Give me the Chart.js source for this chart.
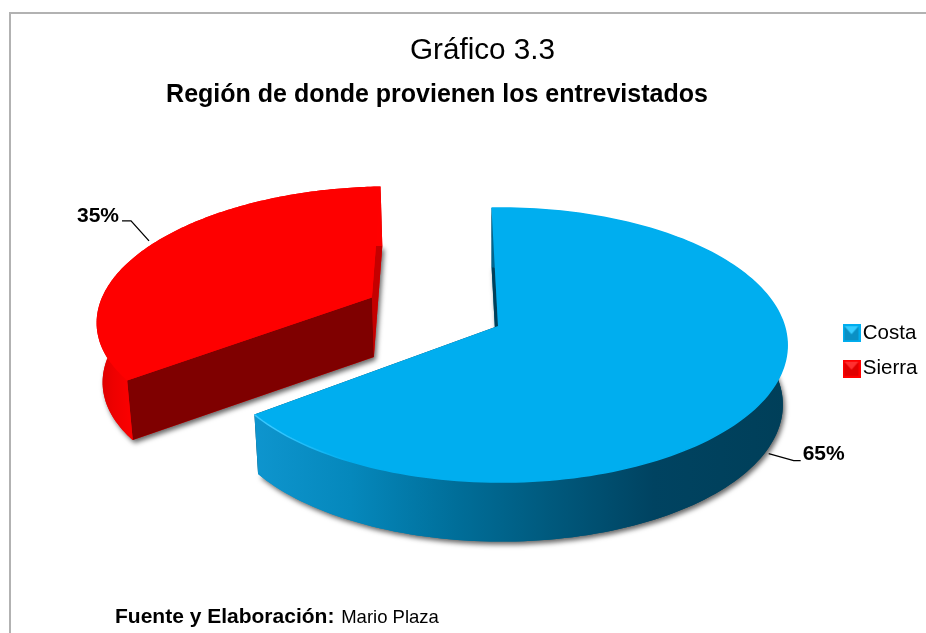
<!DOCTYPE html>
<html lang="es">
<head>
<meta charset="utf-8">
<style>html,body{margin:0;padding:0;background:#fff}canvas{display:block}</style>
<script src="https://cdn.jsdelivr.net/npm/chart.js@4"></script>
</head>
<body>
<canvas id="c" width="926" height="633"></canvas>
<script>
const categories = ['Costa', 'Sierra'];
const values = [65, 35];
const chartTitle = 'Gráfico 3.3';
const chartSubtitle = 'Región de donde provienen los entrevistados';
const sourceLabel = 'Fuente y Elaboración:';
const sourceName = 'Mario Plaza';

const topColors = ['#00AEEF', '#FE0000'];
const startFaceColors = ['#00405A', '#C40000'];
const endFaceColors = ['#00405A', '#7F0000'];
const FONT = '"Liberation Sans", Arial, sans-serif';

// perspective view of the flat pie
const VIEW = {cx: 498, cy: 326, rx: 283.5, ry: 134.4, k: 0.139, h: 0.01, wall: 59.5, taper: 0.015, explodePerPx: 0.51 / 60};
function project(u, v) {
  const d = 1 - VIEW.k * v - VIEW.h * u;
  return {x: VIEW.cx + VIEW.rx * u / d, y: VIEW.cy + VIEW.ry * v / d};
}
function drop(p) {
  return {x: p.x - (p.x - VIEW.cx) * VIEW.taper, y: p.y + VIEW.wall};
}
function trace(ctx, pts) {
  ctx.beginPath();
  pts.forEach((p, i) => i ? ctx.lineTo(p.x, p.y) : ctx.moveTo(p.x, p.y));
  ctx.closePath();
}
function sliceGeometry(arc) {
  const off = arc.options.offset * VIEW.explodePerPx;
  const mid = (arc.startAngle + arc.endAngle) / 2;
  const ou = Math.cos(mid) * off, ov = Math.sin(mid) * off;
  const rim = [];
  const n = 160;
  for (let i = 0; i <= n; i++) {
    const a = arc.startAngle + (arc.endAngle - arc.startAngle) * i / n;
    rim.push(project(ou + Math.cos(a), ov + Math.sin(a)));
  }
  return {apex: project(ou, ov), rim, anchor: project(ou + Math.cos(mid), ov + Math.sin(mid))};
}
function wallGradient(ctx, i, rim) {
  const xs = rim.map(p => p.x);
  const lo = Math.min(...xs), hi = Math.max(...xs);
  const g = ctx.createLinearGradient(lo, 0, hi, 0);
  if (i === 0) {
    g.addColorStop(0, '#0E95CE');
    g.addColorStop(0.18, '#0588BC');
    g.addColorStop(0.38, '#006E99');
    g.addColorStop(0.55, '#005A7E');
    g.addColorStop(0.75, '#004361');
    g.addColorStop(1, '#003F59');
  } else {
    g.addColorStop(0, '#D80000');
    g.addColorStop(0.06, '#EE0000');
    g.addColorStop(0.14, '#FF0000');
    g.addColorStop(1, '#FF0000');
  }
  return g;
}
function drawSlice(ctx, arc, i) {
  const {apex, rim} = sliceGeometry(arc);
  const topShape = [apex, ...rim];
  const baseShape = topShape.map(drop);
  const wallFill = wallGradient(ctx, i, rim);

  ctx.save();
  ctx.shadowColor = 'rgba(0,0,0,0.6)';
  ctx.shadowBlur = 5;
  ctx.shadowOffsetX = 2;
  ctx.shadowOffsetY = 3;
  ctx.fillStyle = wallFill;
  trace(ctx, baseShape);
  ctx.fill();
  ctx.restore();

  const first = rim[0], last = rim[rim.length - 1];
  // arcs run clockwise: first rim point is where the slice starts
  ctx.fillStyle = startFaceColors[i];
  trace(ctx, [apex, i === 0 ? first : last, drop(i === 0 ? first : last), drop(apex)]);
  ctx.fill();
  ctx.fillStyle = endFaceColors[i];
  trace(ctx, [apex, i === 0 ? last : first, drop(i === 0 ? last : first), drop(apex)]);
  ctx.fill();

  ctx.fillStyle = wallFill;
  trace(ctx, [...rim, ...rim.map(drop).reverse()]);
  ctx.fill();

  ctx.fillStyle = topColors[i];
  trace(ctx, topShape);
  ctx.fill();

  if (i === 0) {
    const g = ctx.createLinearGradient(first.x, 0, last.x, 0);
    g.addColorStop(0, '#00AEEF');
    g.addColorStop(0.6, '#00AEEF');
    g.addColorStop(0.93, '#38C8FF');
    g.addColorStop(1, '#38C8FF');
    ctx.strokeStyle = g;
    ctx.lineWidth = 1.5;
    ctx.beginPath();
    rim.forEach((p, j) => j ? ctx.lineTo(p.x, p.y) : ctx.moveTo(p.x, p.y));
    ctx.stroke();
  }
}
function legendMarker(face, dark, light) {
  const s = 18, c = document.createElement('canvas');
  c.width = s; c.height = s;
  const x = c.getContext('2d');
  x.fillStyle = face;
  x.fillRect(0, 0, s, s);
  x.fillStyle = dark;
  x.fillRect(2, 2, s - 4, s - 4);
  x.fillStyle = light;
  x.beginPath();
  x.moveTo(2, 2); x.lineTo(s - 2, 2); x.lineTo(s / 2, s / 2 + 1); x.closePath();
  x.fill();
  return c;
}
const markers = [legendMarker('#00AEEF', '#0A90C4', '#36CDFF'), legendMarker('#FF0000', '#E00000', '#FF3030')];

const threeD = {
  id: 'threeD',
  beforeDraw(chart) {
    const ctx = chart.ctx;
    ctx.save();
    ctx.fillStyle = '#fff';
    ctx.fillRect(0, 0, chart.width, chart.height);
    ctx.strokeStyle = '#B2B2B2';
    ctx.lineWidth = 2;
    ctx.beginPath();
    ctx.moveTo(10, chart.height);
    ctx.lineTo(10, 13);
    ctx.lineTo(chart.width, 13);
    ctx.stroke();
    ctx.restore();
  },
  afterLayout(chart) {
    chart.boxes.forEach(b => {
      if (b.options && b.options.text === chartTitle) { b.left = 282; b.right = 683; b.top = 33; b.bottom = 72; }
      else if (b.options && b.options.text === chartSubtitle) { b.left = 137; b.right = 737; b.top = 80; b.bottom = 114; }
      else if (b === chart.legend) { b.left = 835.5; b.right = 926; b.top = 308; b.bottom = 633; }
    });
  },
  beforeDatasetDraw(chart) {
    const ctx = chart.ctx;
    const arcs = chart.getDatasetMeta(0).data;
    ctx.save();
    drawSlice(ctx, arcs[1], 1);
    drawSlice(ctx, arcs[0], 0);
    ctx.restore();
    return false;
  },
  afterDatasetsDraw(chart) {
    const ctx = chart.ctx;
    const arcs = chart.getDatasetMeta(0).data;
    const total = values.reduce((a, b) => a + b, 0);
    ctx.save();
    ctx.strokeStyle = '#000';
    ctx.lineWidth = 1.3;
    ctx.fillStyle = '#000';
    ctx.font = 'bold 21px ' + FONT;
    ctx.textBaseline = 'middle';
    values.forEach((v, i) => {
      const text = Math.round(v / total * 100) + '%';
      let a = sliceGeometry(arcs[i]).anchor;
      if (i === 0) {
        a = drop(a);
        ctx.beginPath();
        ctx.moveTo(a.x, a.y + 6);
        ctx.lineTo(a.x + 25, a.y + 13);
        ctx.lineTo(a.x + 32, a.y + 13);
        ctx.stroke();
        ctx.textAlign = 'left';
        ctx.fillText(text, a.x + 34, a.y + 7);
      } else {
        ctx.beginPath();
        ctx.moveTo(a.x + 1, a.y - 6);
        ctx.lineTo(a.x - 17, a.y - 26);
        ctx.lineTo(a.x - 26, a.y - 26);
        ctx.stroke();
        ctx.textAlign = 'right';
        ctx.fillText(text, a.x - 29, a.y - 31);
      }
    });
    ctx.textAlign = 'left';
    ctx.textBaseline = 'alphabetic';
    ctx.font = 'bold 21px ' + FONT;
    ctx.fillText(sourceLabel, 115, 623);
    const w = ctx.measureText(sourceLabel + ' ').width;
    ctx.font = '18.5px ' + FONT;
    ctx.fillText(sourceName, 115 + w + 1, 623);
    ctx.restore();
  }
};

new Chart(document.getElementById('c'), {
  type: 'pie',
  data: {
    labels: categories,
    datasets: [{
      data: values,
      backgroundColor: topColors,
      offset: [0, 60],
      borderWidth: 0
    }]
  },
  options: {
    responsive: false,
    animation: false,
    rotation: -1.5,
    plugins: {
      title: {display: true, text: chartTitle, color: '#000', font: {family: FONT, size: 29.7, weight: 'normal'}, padding: 0},
      subtitle: {display: true, text: chartSubtitle, color: '#000', font: {family: FONT, size: 25, weight: 'bold'}, padding: 0},
      legend: {
        position: 'right',
        align: 'start',
        onClick: null,
        labels: {
          usePointStyle: true,
          boxWidth: 2,
          color: '#000',
          font: {family: FONT, size: 20.5},
          padding: 15,
          generateLabels: () => categories.map((t, i) => ({text: t, pointStyle: markers[i], fillStyle: topColors[i], strokeStyle: topColors[i], lineWidth: 0, hidden: false, index: i}))
        }
      },
      tooltip: {enabled: false}
    }
  },
  plugins: [threeD]
});
</script>
</body>
</html>
